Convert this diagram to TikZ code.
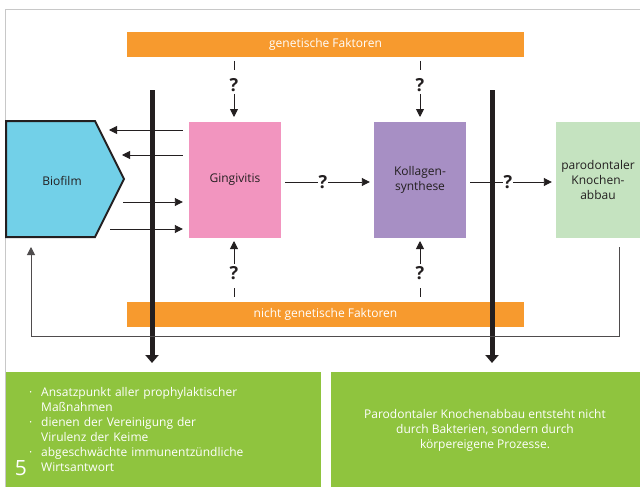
\documentclass[tikz,border=0pt]{standalone}
\usepackage{fontspec}
\setmainfont{Open Sans}
\usetikzlibrary{arrows.meta,calc}
\definecolor{orng}{HTML}{F79A2E}
\definecolor{biob}{HTML}{72D0E8}
\definecolor{pinkb}{HTML}{F295BF}
\definecolor{purpb}{HTML}{A78FC4}
\definecolor{lgreen}{HTML}{C5E3C0}
\definecolor{dgreen}{HTML}{8FC43E}
\definecolor{ink}{HTML}{231F20}
\definecolor{frame}{HTML}{C8C8C8}
\tikzset{
  fbar/.style={fill=orng,text=white,minimum width=397pt,minimum height=25pt,inner sep=0pt,font=\fontsize{12}{14}\selectfont},
  stage/.style={minimum width=92pt,minimum height=116pt,inner sep=0pt,align=center,text=ink,font=\fontsize{12}{15}\selectfont},
  arr/.style={draw=ink,line width=0.9pt,-{Triangle[length=8pt,width=8pt]}},
  thin/.style={draw=ink,line width=0.9pt},
  qm/.style={font=\bfseries\fontsize{18}{18}\selectfont,text=ink,inner sep=1pt},
  bigbar/.style={draw=ink,line width=5pt,-{Triangle[length=8pt,width=13pt]}},
  loop/.style={draw=ink!80,line width=1pt,-{Triangle[length=8pt,width=8pt]}},
  gbox/.style={fill=dgreen,inner sep=0pt,text=white,font=\fontsize{12}{15}\selectfont}
}
\begin{document}
\begin{tikzpicture}[x=1pt,y=-1pt]
\useasboundingbox (0,0) rectangle (640,487);
\fill[white] (0,0) rectangle (640,487);
% frame
\draw[frame,line width=1pt] (5,487) -- (5,9.5) -- (640,9.5);
% factor bars
\node[fbar] (gen) at (325.5,44.5) {genetische Faktoren};
\node[fbar] (ngen) at (325.5,314) {nicht genetische Faktoren};
% biofilm
\draw[fill=biob,draw=ink,line width=2pt] (6,121) -- (95,121) -- (124,179) -- (95,237) -- (6,237) -- cycle;
\node[text=ink,font=\fontsize{12}{14}\selectfont] (bio) at (62,181) {Biofilm};
% stages
\node[stage,fill=pinkb] (gin) at (235,180) {Gingivitis};
\node[stage,fill=purpb] (kol) at (420,180) {Kollagen-\\synthese};
\node[stage,fill=lgreen,minimum width=84pt] (par) at (598,180) {parodontaler\\Knochen-\\abbau};
% big bars
\draw[bigbar] (152,90) -- (152,363) coordinate (b1);
\draw[bigbar] (492,90) -- (492,363) coordinate (b2);
% biofilm <-> gingivitis arrows
\draw[arr] (gin.west |- 0,130) ++(-6,0) -- (109,130);
\draw[arr] (gin.west |- 0,155) ++(-6,0) -- (122,155);
\draw[arr] (123,202) -- ($(gin.west |- 0,202)+(-6,0)$);
\draw[arr] (110,229) -- ($(gin.west |- 0,229)+(-6,0)$);
% chain
\node[qm] (q1) at (323,182) {?};
\draw[thin] ($(gin.east)+(4,2)$) -- (q1.west);
\draw[arr] (q1.east) -- ($(kol.west)+(-4,2)$);
\node[qm] (q2) at (508,182) {?};
\draw[thin] ($(kol.east)+(4,2)$) -- (q2.west);
\draw[arr] (q2.east) -- ($(par.west)+(-4,2)$);
% genetic factor arrows
\foreach \x/\n in {234/a,420/b}{
  \node[qm] (qt\n) at (\x,85) {?};
  \draw[thin] (\x,61) -- (\x,70);
  \draw[arr] (qt\n.south) ++(0,1) -- (\x,117);
  \node[qm] (qb\n) at (\x,273) {?};
  \draw[thin] (\x,288) -- (\x,297);
  \draw[arr] (qb\n.north) ++(0,-1) -- (\x,241);
}
% feedback loop
\coordinate (lp1) at (619,336);
\coordinate (lp2) at (31,336);
\draw[loop] (619,247) -- (lp1) -- (lp2) -- (31,247);
% green boxes
\fill[dgreen] (6,372) rectangle (321,487);
\fill[dgreen] (331,372) rectangle (640,487);
\node[gbox,anchor=north west,align=left,text width=280pt,fill=none] (lt) at (29,387) {%
\makebox[12pt][l]{·}Ansatzpunkt aller prophylaktischer\\
\hspace*{12pt}Maßnahmen\\
\makebox[12pt][l]{·}dienen der Vereinigung der\\
\hspace*{12pt}Virulenz der Keime\\
\makebox[12pt][l]{·}abgeschwächte immunentzündliche\\
\hspace*{12pt}Wirtsantwort};
\node[text=white,font=\fontsize{21}{21}\selectfont,anchor=base,inner sep=0pt] (five) at (21,475) {5};
\node[gbox,align=center,fill=none] (rt) at (485,430) {Parodontaler Knochenabbau entsteht nicht\\durch Bakterien, sondern durch\\körpereigene Prozesse.};
\end{tikzpicture}
\end{document}
